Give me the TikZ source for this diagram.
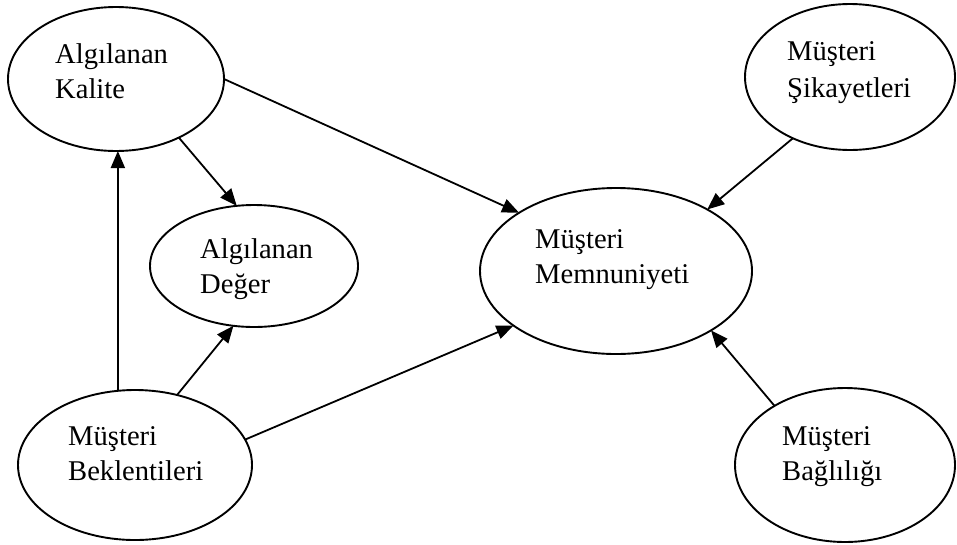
\documentclass[tikz,border=0pt]{standalone}
\usepackage{fontspec}
\setmainfont{Liberation Serif}
\usetikzlibrary{shapes.geometric,arrows.meta}
\begin{document}
\begin{tikzpicture}[x=1pt,y=-1pt,
  oval/.style={draw=black, line width=1.9pt, ellipse, inner sep=0pt, outer sep=0pt},
  lbl/.style={anchor=base west, inner sep=0pt, font=\fontsize{28.6}{35}\selectfont},
  arr/.style={line width=1.8pt, -{Triangle[length=17pt,width=14pt]}}]
\useasboundingbox (0,0) rectangle (957,544);
\fill[white] (0,0) rectangle (957,544);
% ellipses
\node[oval, minimum width=216pt, minimum height=144pt] (kal) at (116,79) {};
\node[oval, minimum width=208pt, minimum height=122pt] (deg) at (254,266) {};
\node[oval, minimum width=272pt, minimum height=166pt] (mem) at (616,271) {};
\node[oval, minimum width=210pt, minimum height=146pt] (sik) at (850,77) {};
\node[oval, minimum width=234pt, minimum height=150pt] (bek) at (135,465) {};
\node[oval, minimum width=220pt, minimum height=154pt] (bag) at (845,465) {};
% texts
\node[lbl] (kalt) at (55,63) {\begin{tabular}[t]{@{}l@{}}Algılanan\\Kalite\end{tabular}};
\node[lbl] (degt) at (200,258) {\begin{tabular}[t]{@{}l@{}}Algılanan\\Değer\end{tabular}};
\node[lbl] (memt) at (535,248) {\begin{tabular}[t]{@{}l@{}}Müşteri\\Memnuniyeti\end{tabular}};
\node[lbl] (sikt) at (787,60) {\begin{tabular}[t]{@{}l@{}}Müşteri\\[2pt]Şikayetleri\end{tabular}};
\node[lbl] (bekt) at (68,445) {\begin{tabular}[t]{@{}l@{}}Müşteri\\Beklentileri\end{tabular}};
\node[lbl] (bagt) at (782,445) {\begin{tabular}[t]{@{}l@{}}Müşteri\\Bağlılığı\end{tabular}};
% connectors
\draw[arr] (kal.0) -- (mem.149.3);
\draw[arr] (kal.-43) -- (deg.106.4);
\draw[arr] (bek.103.7) -- (kal.south -| bek.103.7);
\draw[arr] (bek.59.7) -- (deg.251.3);
\draw[arr] (bek.13.4) -- (mem.208.5);
\draw[arr] (sik.227.4) -- (mem.34.4);
\draw[arr] (bag.140.6) -- (mem.328.4);
\end{tikzpicture}
\end{document}
